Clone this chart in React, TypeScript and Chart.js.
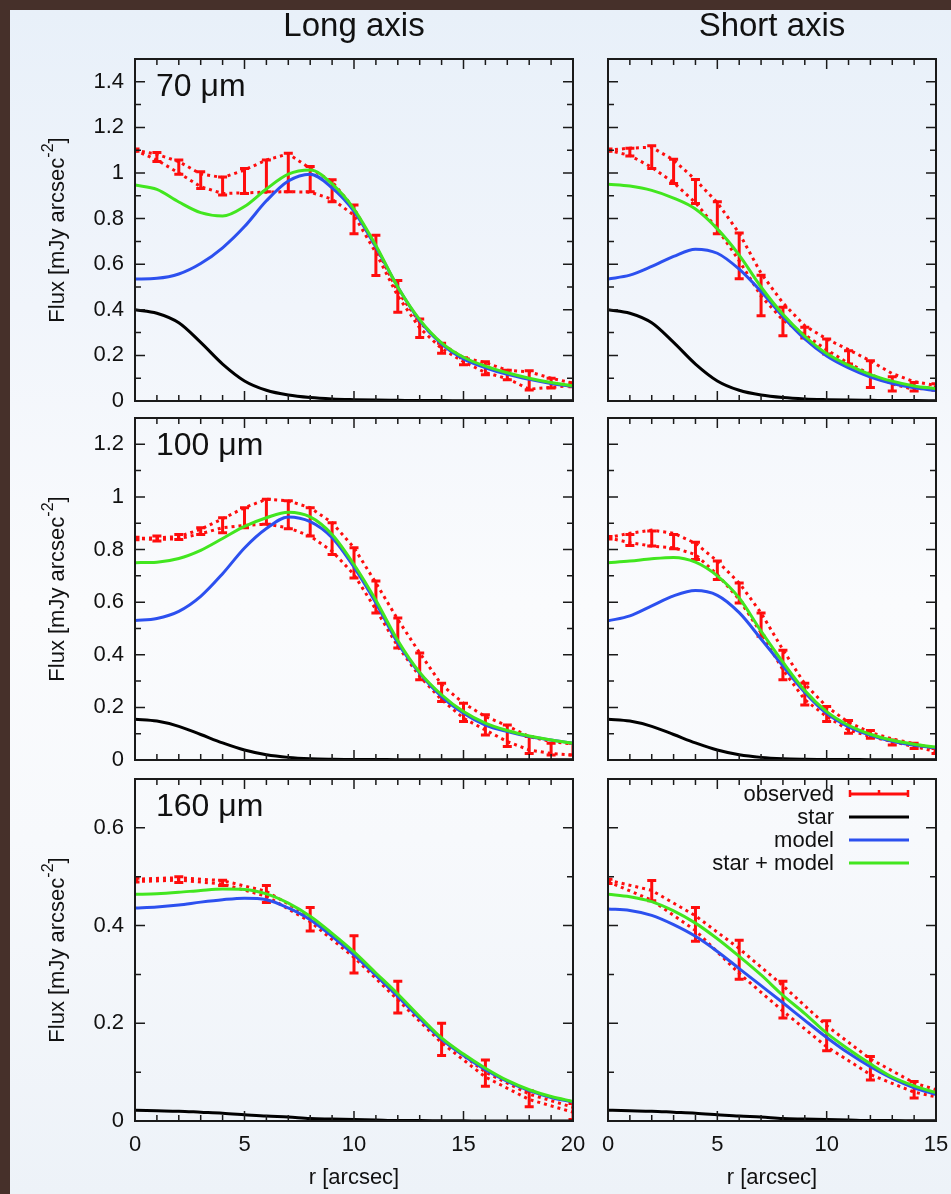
import React, { useEffect, useRef } from "react";
import { Chart, registerables } from "chart.js";

Chart.register(...registerables);

const FONT_FAMILY = "'Liberation Sans', Arial, Helvetica, sans-serif";
const RED = "#ff0d0d";
const BLACK = "#000000";
const BLUE = "#2c50ef";
const GREEN = "#42e61f";
const INK = "#111111";

// Radial offsets from the star (arcsec)
const r0to20 = [0, 1, 2, 3, 4, 5, 6, 7, 8, 9, 10, 11, 12, 13, 14, 15, 16, 17, 18, 19, 20];
const r0to15 = [0, 1, 2, 3, 4, 5, 6, 7, 8, 9, 10, 11, 12, 13, 14, 15];
const rEven0to20 = [0, 2, 4, 6, 8, 10, 12, 14, 16, 18, 20];
const rEven0to16 = [0, 2, 4, 6, 8, 10, 12, 14, 16];
const rEven0to14 = [0, 2, 4, 6, 8, 10, 12, 14];

// Tick labels
const xTicksLong = [0, 5, 10, 15, 20];
const xTicksShort = [0, 5, 10, 15];
const yTicks70 = [0, 0.2, 0.4, 0.6, 0.8, 1, 1.2, 1.4];
const yTicks100 = [0, 0.2, 0.4, 0.6, 0.8, 1, 1.2];
const yTicks160 = [0, 0.2, 0.4, 0.6];

const bandNames = ["70 μm", "100 μm", "160 μm"];
const columnTitles = ["Long axis", "Short axis"];
const legendLabels = ["observed", "star", "model", "star + model"];
const yTitleMain = "Flux [mJy arcsec";
const yTitleSup = "-2";
const yTitleEnd = "]";
const xTitle = "r [arcsec]";

// ---- 70 micron ----
const star70 = [0.40, 0.385, 0.343, 0.257, 0.162, 0.088, 0.047, 0.026, 0.015, 0.009, 0.006, 0.004, 0.003, 0.002, 0.002, 0.001, 0.001, 0.001, 0.001, 0.001, 0.001];
const model70Long = [0.535, 0.538, 0.557, 0.603, 0.672, 0.765, 0.878, 0.965, 0.995, 0.935, 0.832, 0.675, 0.5, 0.352, 0.25, 0.184, 0.146, 0.117, 0.095, 0.077, 0.063];
const sum70Long = [0.947, 0.928, 0.873, 0.826, 0.811, 0.853, 0.93, 0.995, 1.013, 0.952, 0.842, 0.682, 0.5, 0.357, 0.255, 0.192, 0.153, 0.124, 0.1, 0.081, 0.066];
const obsHi70Long = [1.1, 1.082, 1.05, 0.996, 0.98, 1.013, 1.057, 1.084, 1.02, 0.962, 0.845, 0.675, 0.48, 0.345, 0.25, 0.19, 0.168, 0.135, 0.128, 0.1, 0.078];
const obsLo70Long = [1.1, 1.057, 1.0, 0.94, 0.91, 0.913, 0.916, 0.918, 0.916, 0.885, 0.815, 0.65, 0.46, 0.32, 0.23, 0.172, 0.125, 0.098, 0.052, 0.06, 0.068];
const errHi70Long = [1.105, 1.09, 1.057, 1.006, 0.982, 1.02, 1.057, 1.087, 1.028, 0.97, 0.86, 0.727, 0.529, 0.36, 0.253, 0.19, 0.172, 0.135, 0.133, 0.1, 0.08];
const errLo70Long = [1.095, 1.05, 0.995, 0.932, 0.903, 0.91, 0.918, 0.918, 0.918, 0.874, 0.734, 0.55, 0.389, 0.279, 0.209, 0.159, 0.115, 0.093, 0.048, 0.057, 0.062];

const model70Short = [0.535, 0.552, 0.59, 0.634, 0.666, 0.648, 0.578, 0.48, 0.37, 0.272, 0.197, 0.145, 0.105, 0.077, 0.058, 0.046];
const sum70Short = [0.951, 0.943, 0.924, 0.89, 0.842, 0.755, 0.64, 0.5, 0.38, 0.284, 0.208, 0.157, 0.116, 0.087, 0.066, 0.054];
const obsHi70Short = [1.1, 1.109, 1.113, 1.057, 0.97, 0.87, 0.736, 0.56, 0.43, 0.33, 0.272, 0.225, 0.176, 0.12, 0.085, 0.068];
const obsLo70Short = [1.1, 1.077, 1.025, 0.958, 0.87, 0.755, 0.615, 0.46, 0.355, 0.29, 0.225, 0.165, 0.118, 0.075, 0.05, 0.062];
const errHi70Short = [1.105, 1.109, 1.12, 1.06, 0.972, 0.874, 0.737, 0.551, 0.411, 0.323, 0.272, 0.22, 0.176, 0.106, 0.081, 0.076];
const errLo70Short = [1.095, 1.075, 1.02, 0.954, 0.866, 0.734, 0.536, 0.374, 0.286, 0.276, 0.206, 0.162, 0.059, 0.044, 0.044, 0.047];

// ---- 100 micron ----
const star100 = [0.155, 0.148, 0.128, 0.097, 0.065, 0.038, 0.02, 0.01, 0.005, 0.003, 0.002, 0.002, 0.001, 0.001, 0.001, 0.001, 0.001, 0.001, 0.001, 0.001, 0.001];
const model100Long = [0.53, 0.538, 0.565, 0.622, 0.708, 0.806, 0.88, 0.924, 0.906, 0.845, 0.733, 0.597, 0.445, 0.33, 0.241, 0.178, 0.133, 0.108, 0.089, 0.076, 0.064];
const sum100Long = [0.75, 0.752, 0.766, 0.797, 0.842, 0.888, 0.921, 0.942, 0.924, 0.857, 0.743, 0.607, 0.454, 0.333, 0.248, 0.184, 0.14, 0.112, 0.091, 0.076, 0.064];
const obsHi100Long = [0.842, 0.845, 0.849, 0.877, 0.917, 0.959, 0.991, 0.985, 0.959, 0.902, 0.807, 0.673, 0.534, 0.407, 0.286, 0.216, 0.165, 0.13, 0.089, 0.07, 0.061];
const obsLo100Long = [0.842, 0.838, 0.841, 0.86, 0.883, 0.892, 0.896, 0.883, 0.851, 0.794, 0.705, 0.572, 0.432, 0.318, 0.229, 0.159, 0.114, 0.07, 0.038, 0.025, 0.019];
const errHi100Long = [0.847, 0.851, 0.857, 0.883, 0.921, 0.959, 0.991, 0.985, 0.959, 0.902, 0.807, 0.68, 0.54, 0.407, 0.292, 0.216, 0.172, 0.133, 0.089, 0.064, 0.064];
const errLo100Long = [0.837, 0.832, 0.838, 0.857, 0.864, 0.883, 0.896, 0.879, 0.851, 0.781, 0.692, 0.559, 0.426, 0.305, 0.222, 0.146, 0.095, 0.051, 0.025, 0.019, 0.019];

const model100Short = [0.529, 0.548, 0.586, 0.624, 0.644, 0.626, 0.56, 0.46, 0.357, 0.257, 0.177, 0.126, 0.094, 0.071, 0.056, 0.046];
const sum100Short = [0.75, 0.756, 0.765, 0.77, 0.752, 0.7, 0.616, 0.49, 0.372, 0.264, 0.184, 0.132, 0.098, 0.075, 0.06, 0.049];
const obsHi100Short = [0.845, 0.862, 0.874, 0.862, 0.824, 0.756, 0.673, 0.559, 0.419, 0.289, 0.203, 0.143, 0.105, 0.08, 0.062, 0.042];
const obsLo100Short = [0.845, 0.826, 0.813, 0.807, 0.781, 0.705, 0.61, 0.483, 0.343, 0.229, 0.165, 0.114, 0.089, 0.07, 0.051, 0.032];
const errHi100Short = [0.85, 0.857, 0.87, 0.857, 0.828, 0.756, 0.673, 0.559, 0.417, 0.292, 0.203, 0.15, 0.112, 0.076, 0.064, 0.044];
const errLo100Short = [0.84, 0.815, 0.813, 0.803, 0.762, 0.686, 0.597, 0.47, 0.305, 0.209, 0.146, 0.102, 0.083, 0.057, 0.044, 0.025];

// ---- 160 micron ----
const star160 = [0.022, 0.021, 0.02, 0.018, 0.016, 0.013, 0.01, 0.008, 0.005, 0.004, 0.003, 0.002, 0.001, 0.001, 0.0005, 0.0003, 0, 0, 0, 0, 0];
const model160Long = [0.436, 0.438, 0.442, 0.448, 0.453, 0.456, 0.453, 0.436, 0.412, 0.378, 0.34, 0.298, 0.255, 0.21, 0.167, 0.134, 0.105, 0.081, 0.062, 0.048, 0.039];
const sum160Long = [0.464, 0.465, 0.468, 0.472, 0.475, 0.474, 0.465, 0.446, 0.419, 0.384, 0.346, 0.303, 0.26, 0.214, 0.17, 0.137, 0.108, 0.083, 0.064, 0.05, 0.04];
const obsHi160Long = [0.495, 0.498, 0.492, 0.47, 0.418, 0.342, 0.255, 0.168, 0.1, 0.055, 0.028];
const obsLo160Long = [0.49, 0.493, 0.485, 0.46, 0.408, 0.335, 0.248, 0.16, 0.09, 0.044, 0.018];
const errHi160Long = [0.497, 0.5, 0.493, 0.482, 0.437, 0.379, 0.286, 0.2, 0.125, 0.062, 0.036];
const errLo160Long = [0.489, 0.488, 0.482, 0.447, 0.389, 0.303, 0.221, 0.134, 0.071, 0.029, 0.003];

const model160Short = [0.434, 0.431, 0.421, 0.402, 0.378, 0.347, 0.312, 0.277, 0.242, 0.206, 0.171, 0.139, 0.111, 0.087, 0.068, 0.054];
const sum160Short = [0.464, 0.459, 0.449, 0.43, 0.405, 0.373, 0.337, 0.299, 0.257, 0.22, 0.18, 0.147, 0.117, 0.09, 0.072, 0.058];
const obsHi160Short = [0.493, 0.472, 0.42, 0.353, 0.277, 0.195, 0.127, 0.078, 0.05];
const obsLo160Short = [0.49, 0.452, 0.39, 0.302, 0.225, 0.152, 0.095, 0.059, 0.04];
const errHi160Short = [0.495, 0.492, 0.437, 0.37, 0.286, 0.205, 0.132, 0.081];
const errLo160Short = [0.486, 0.451, 0.368, 0.29, 0.211, 0.144, 0.084, 0.047];

// ---- page layout (pixels) ----
const COL_X = [10, 595];
const COL_L = [125, 13];
const COL_W = [438, 328];
const COL_R = [17, 15];
const ROW_Y = [10, 408, 769];
const ROW_T = [49, 10, 10];
const ROW_H = 342;
const ROW_B = [8, 8, 73];
const Y_MAX = [1.5, 1.3, 0.7];

type Panel = {
  row: number;
  col: number;
  yTicks: number[];
  xTicks: number[];
  xMax: number;
  rModel: number[];
  star: number[];
  model: number[];
  sum: number[];
  rObs: number[];
  obsHi: number[];
  obsLo: number[];
  rErr: number[];
  errHi: number[];
  errLo: number[];
};

const PANELS: Panel[] = [
  { row: 0, col: 0, yTicks: yTicks70, xTicks: xTicksLong, xMax: 20, rModel: r0to20, star: star70, model: model70Long, sum: sum70Long, rObs: r0to20, obsHi: obsHi70Long, obsLo: obsLo70Long, rErr: r0to20, errHi: errHi70Long, errLo: errLo70Long },
  { row: 0, col: 1, yTicks: yTicks70, xTicks: xTicksShort, xMax: 15, rModel: r0to15, star: star70.slice(0, 16), model: model70Short, sum: sum70Short, rObs: r0to15, obsHi: obsHi70Short, obsLo: obsLo70Short, rErr: r0to15, errHi: errHi70Short, errLo: errLo70Short },
  { row: 1, col: 0, yTicks: yTicks100, xTicks: xTicksLong, xMax: 20, rModel: r0to20, star: star100, model: model100Long, sum: sum100Long, rObs: r0to20, obsHi: obsHi100Long, obsLo: obsLo100Long, rErr: r0to20, errHi: errHi100Long, errLo: errLo100Long },
  { row: 1, col: 1, yTicks: yTicks100, xTicks: xTicksShort, xMax: 15, rModel: r0to15, star: star100.slice(0, 16), model: model100Short, sum: sum100Short, rObs: r0to15, obsHi: obsHi100Short, obsLo: obsLo100Short, rErr: r0to15, errHi: errHi100Short, errLo: errLo100Short },
  { row: 2, col: 0, yTicks: yTicks160, xTicks: xTicksLong, xMax: 20, rModel: r0to20, star: star160, model: model160Long, sum: sum160Long, rObs: rEven0to20, obsHi: obsHi160Long, obsLo: obsLo160Long, rErr: rEven0to20, errHi: errHi160Long, errLo: errLo160Long },
  { row: 2, col: 1, yTicks: yTicks160, xTicks: xTicksShort, xMax: 15, rModel: r0to15, star: star160.slice(0, 16), model: model160Short, sum: sum160Short, rObs: rEven0to16, obsHi: obsHi160Short, obsLo: obsLo160Short, rErr: rEven0to14, errHi: errHi160Short, errLo: errLo160Short },
];

const font = (size: number) => `${size}px ${FONT_FAMILY}`;
const pts = (xs: number[], ys: number[]) => xs.map((x, i) => ({ x, y: ys[i] }));

function decorations(p: Panel) {
  const yMax = Y_MAX[p.row];
  return {
    id: "panelDecor",
    beforeDatasetsDraw(chart: any) {
      // vertical error bars of the observed profile
      const { ctx, chartArea: a } = chart;
      const x = chart.scales.x;
      const y = chart.scales.y;
      ctx.save();
      ctx.beginPath();
      ctx.rect(a.left, a.top, a.right - a.left, a.bottom - a.top);
      ctx.clip();
      ctx.strokeStyle = RED;
      ctx.lineWidth = 3;
      ctx.lineCap = "butt";
      p.rErr.forEach((r, i) => {
        const px = x.getPixelForValue(r);
        const yTop = y.getPixelForValue(p.errHi[i]);
        const yBot = y.getPixelForValue(p.errLo[i]);
        ctx.beginPath();
        ctx.moveTo(px, yBot + 1);
        ctx.lineTo(px, yTop - 1);
        ctx.moveTo(px - 4.5, yTop);
        ctx.lineTo(px + 4.5, yTop);
        ctx.moveTo(px - 4.5, yBot);
        ctx.lineTo(px + 4.5, yBot);
        ctx.stroke();
      });
      ctx.restore();
    },
    afterDraw(chart: any) {
      const { ctx, chartArea: a } = chart;
      const x = chart.scales.x;
      const y = chart.scales.y;
      ctx.save();
      // inward tick marks on all four sides
      ctx.strokeStyle = "#1a1a1a";
      ctx.lineWidth = 1.5;
      ctx.beginPath();
      for (let v = 0; v <= p.xMax; v++) {
        const px = x.getPixelForValue(v);
        const len = v % 5 === 0 ? 10 : 6;
        ctx.moveTo(px, a.bottom);
        ctx.lineTo(px, a.bottom - len);
        ctx.moveTo(px, a.top);
        ctx.lineTo(px, a.top + len);
      }
      const n = Math.round(yMax * 10);
      for (let k = 0; k <= n; k++) {
        const py = y.getPixelForValue(k / 10);
        const len = k % 2 === 0 ? 10 : 6;
        ctx.moveTo(a.left, py);
        ctx.lineTo(a.left + len, py);
        ctx.moveTo(a.right, py);
        ctx.lineTo(a.right - len, py);
      }
      ctx.stroke();
      // frame
      ctx.lineWidth = 2;
      ctx.strokeRect(a.left, a.top, a.right - a.left, a.bottom - a.top);

      ctx.fillStyle = INK;
      if (p.row === 0) {
        ctx.font = font(33);
        ctx.textAlign = "center";
        ctx.textBaseline = "alphabetic";
        ctx.fillText(columnTitles[p.col], (a.left + a.right) / 2, a.top - 23);
      }
      if (p.col === 0) {
        // band label
        ctx.font = font(32);
        ctx.textAlign = "left";
        ctx.textBaseline = "alphabetic";
        ctx.fillText(bandNames[p.row], a.left + 21, a.top + 37);
        // rotated y title with superscript exponent
        ctx.save();
        ctx.translate(a.left - 77, (a.top + a.bottom) / 2);
        ctx.rotate(-Math.PI / 2);
        ctx.textBaseline = "middle";
        ctx.font = font(22);
        const w1 = ctx.measureText(yTitleMain).width;
        const w3 = ctx.measureText(yTitleEnd).width;
        ctx.font = font(16);
        const w2 = ctx.measureText(yTitleSup).width;
        let cx = -(w1 + w2 + w3) / 2;
        ctx.textAlign = "left";
        ctx.font = font(22);
        ctx.fillText(yTitleMain, cx, 0);
        cx += w1;
        ctx.font = font(16);
        ctx.fillText(yTitleSup, cx, -9);
        cx += w2;
        ctx.font = font(22);
        ctx.fillText(yTitleEnd, cx, 0);
        ctx.restore();
      }
      if (p.row === 2 && p.col === 1) {
        // key
        const colors = [RED, BLACK, BLUE, GREEN];
        const rowsY = [15, 38, 61, 84];
        ctx.font = font(22);
        ctx.textAlign = "right";
        ctx.textBaseline = "middle";
        legendLabels.forEach((label, i) => {
          const ly = a.top + rowsY[i];
          ctx.fillStyle = INK;
          ctx.fillText(label, a.right - 102, ly + 1);
          ctx.strokeStyle = colors[i];
          ctx.lineWidth = 3;
          ctx.beginPath();
          ctx.moveTo(a.right - 87, ly);
          ctx.lineTo(a.right - 27, ly);
          ctx.stroke();
          if (i === 0) {
            ctx.lineWidth = 2.5;
            ctx.beginPath();
            ctx.moveTo(a.right - 86, ly - 4);
            ctx.lineTo(a.right - 86, ly + 3);
            ctx.moveTo(a.right - 28, ly - 4);
            ctx.lineTo(a.right - 28, ly + 3);
            ctx.moveTo(a.right - 57, ly - 4);
            ctx.lineTo(a.right - 57, ly);
            ctx.stroke();
          }
        });
      }
      ctx.restore();
    },
  };
}

// Keep the plot area fixed: no extra room reserved for overhanging tick labels
const noLabelPadding = (s: any) => {
  s.paddingTop = 0;
  s.paddingBottom = 0;
  s.paddingLeft = 0;
  s.paddingRight = 0;
};

function PanelChart({ p }: { p: Panel }) {
  const ref = useRef<HTMLCanvasElement>(null);
  const L = COL_L[p.col];
  const R = COL_R[p.col];
  const T = ROW_T[p.row];
  const B = ROW_B[p.row];
  const width = L + COL_W[p.col] + R;
  const height = T + ROW_H + B;
  const bottomRow = p.row === 2;
  const leftCol = p.col === 0;

  useEffect(() => {
    const line = (data: any[], color: string, order: number, extra: any = {}) => ({
      data,
      borderColor: color,
      backgroundColor: color,
      borderWidth: 3,
      pointRadius: 0,
      fill: false,
      order,
      ...extra,
    });
    const chart = new Chart(ref.current as HTMLCanvasElement, {
      type: "line",
      data: {
        datasets: [
          line(pts(p.rModel, p.sum), GREEN, 0, { cubicInterpolationMode: "monotone" }),
          line(pts(p.rModel, p.model), BLUE, 1, { cubicInterpolationMode: "monotone" }),
          line(pts(p.rModel, p.star), BLACK, 2, { cubicInterpolationMode: "monotone" }),
          line(pts(p.rObs, p.obsHi), RED, 3, { borderDash: [3, 4], tension: 0 }),
          line(pts(p.rObs, p.obsLo), RED, 3, { borderDash: [3, 4], tension: 0 }),
        ],
      },
      options: {
        animation: false,
        responsive: false,
        maintainAspectRatio: false,
        events: [],
        layout: { padding: { top: T, right: R, left: 0, bottom: 0 } },
        plugins: { legend: { display: false }, tooltip: { enabled: false }, title: { display: false } },
        scales: {
          x: {
            type: "linear",
            min: 0,
            max: p.xMax,
            grid: { display: false, drawTicks: false },
            border: { display: false },
            afterBuildTicks: (s: any) => {
              s.ticks = p.xTicks.map((v) => ({ value: v }));
            },
            afterFit: (s: any) => {
              s.height = B;
              noLabelPadding(s);
            },
            ticks: {
              display: bottomRow,
              autoSkip: false,
              maxRotation: 0,
              padding: 11,
              color: INK,
              font: { family: FONT_FAMILY, size: 22 },
              callback: (v: any) => String(v),
            },
            title: {
              display: bottomRow,
              text: xTitle,
              color: INK,
              font: { family: FONT_FAMILY, size: 22 },
              padding: { top: 0, bottom: 3 },
            },
          },
          y: {
            type: "linear",
            min: 0,
            max: Y_MAX[p.row],
            grid: { display: false, drawTicks: false },
            border: { display: false },
            afterBuildTicks: (s: any) => {
              s.ticks = p.yTicks.map((v) => ({ value: v }));
            },
            afterFit: (s: any) => {
              s.width = L;
              noLabelPadding(s);
            },
            ticks: {
              display: leftCol,
              autoSkip: false,
              padding: 11,
              color: INK,
              font: { family: FONT_FAMILY, size: 22 },
              callback: (v: any) => String(Math.round(Number(v) * 10) / 10),
            },
          },
        },
      } as any,
      plugins: [decorations(p)],
    });
    return () => chart.destroy();
  }, [p]);

  return (
    <canvas
      ref={ref}
      width={width}
      height={height}
      style={{ position: "absolute", left: COL_X[p.col], top: ROW_Y[p.row], width, height }}
    />
  );
}

export default function App() {
  useEffect(() => {
    document.body.style.margin = "0";
    document.body.style.overflow = "hidden";
  }, []);
  return (
    <div
      style={{
        position: "absolute",
        left: 0,
        top: 0,
        width: 951,
        height: 1194,
        background: "#46302a",
        overflow: "hidden",
      }}
    >
      <div
        style={{
          position: "absolute",
          left: 10,
          top: 10,
          width: 941,
          height: 1184,
          background:
            "linear-gradient(to bottom, #e8f0f9 0%, #f1f5fb 25%, #fafbfd 50%, #f7f9fc 70%, #edf2f8 100%)",
        }}
      />
      {PANELS.map((p, i) => (
        <PanelChart key={i} p={p} />
      ))}
    </div>
  );
}
